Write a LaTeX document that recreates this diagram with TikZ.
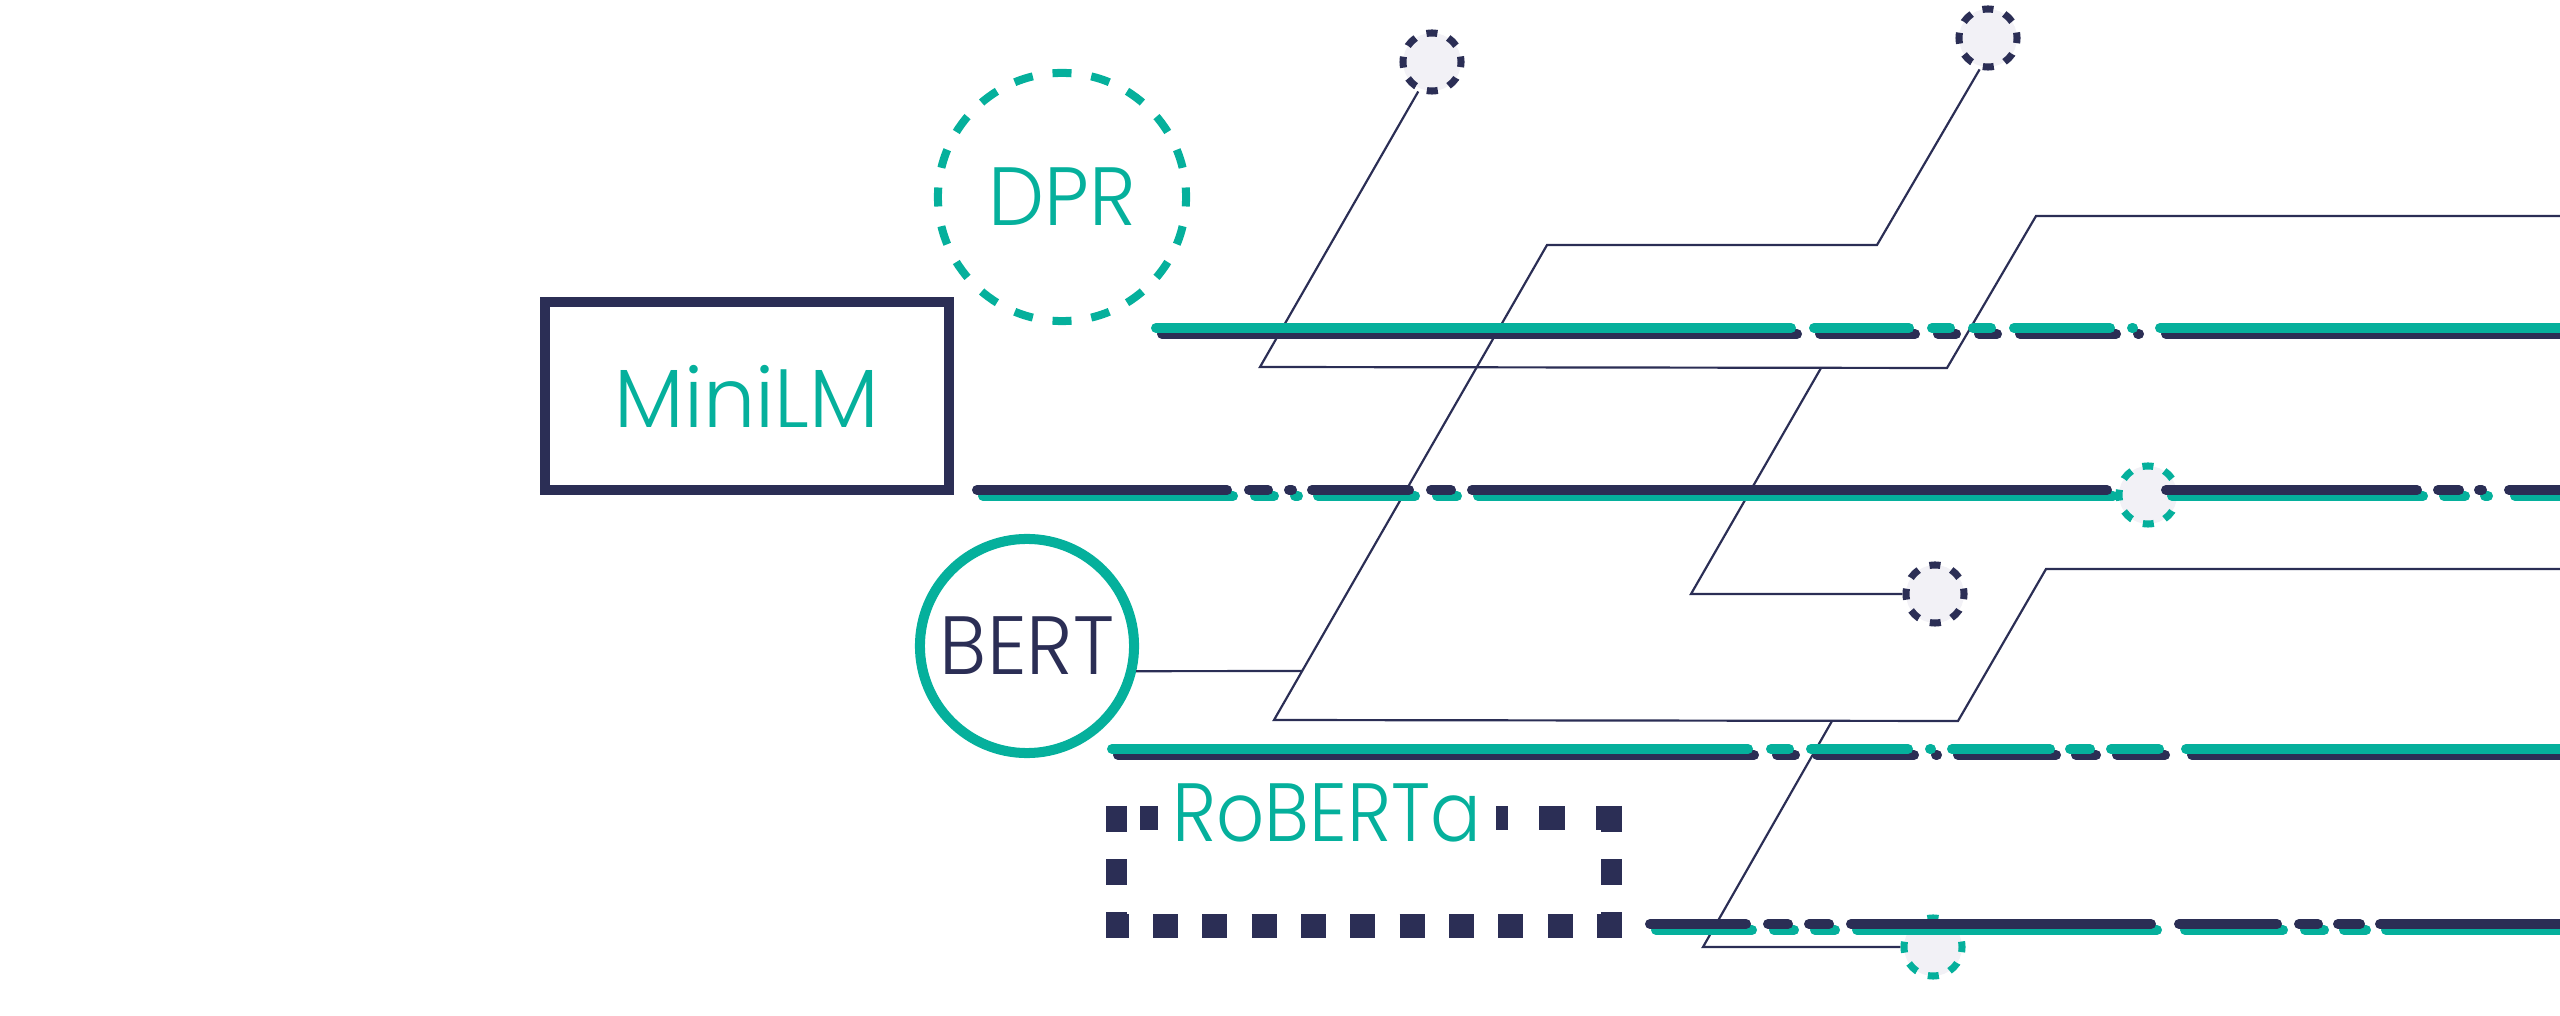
\documentclass[tikz,border=0pt]{standalone}
\usepackage{fontspec}
\setmainfont{Poppins}[UprightFont={* Light}]
\definecolor{teal1}{HTML}{05B09C}
\definecolor{navy}{HTML}{2B2E55}
\definecolor{dotfill}{HTML}{F2F1F6}
\newcommand\drawbarrow[4]{%
  \foreach \a/\b in {#4} {\draw[bar,#3] (\a+11,#1+6) -- (\b+1,#1+6);}
  \foreach \a/\b in {#4} {\draw[bar,#2] (\a+5,#1) -- (\b-5,#1);}
}
\newcommand\narrow[2]{\scalebox{#1}[1]{#2}}
\begin{document}
\begin{tikzpicture}[x=0.01cm,y=-0.01cm,
  lbl/.style={font=\fontsize{23.5}{28}\selectfont},
  thinpath/.style={draw=navy,line width=0.62pt,line join=miter},
  bar/.style={line width=2.845pt,line cap=round},
  smallc/.style={circle,minimum size=0.58cm,inner sep=0pt,line width=2pt,fill=dotfill,
     dash pattern=on 0.11cm off 0.118cm,dash phase=0.055cm},
  rdash/.style={draw=navy,line cap=butt}]
\useasboundingbox (0,0) rectangle (2560,1016);

% big labelled shapes
\node[lbl,draw=navy,line width=2.845pt,minimum width=4.04cm,minimum height=1.88cm,text=teal1,inner sep=0pt]
  (minilm) at (747,396) {MiniLM};
\node[lbl,circle,draw=teal1,line width=2.28pt,minimum size=2.48cm,text=teal1,inner sep=0pt,
  dash pattern=on 0.19cm off 0.1996cm,dash phase=0.095cm] (dpr) at (1062,197) {\narrow{0.96}{DPR}};
\node[lbl,circle,draw=teal1,line width=2.85pt,minimum size=2.14cm,text=navy,inner sep=0pt]
  (bert) at (1027,646) {\narrow{0.955}{BERT}};

% small dashed circles
\node[smallc,draw=navy] (c1) at (1432,62) {};
\node[smallc,draw=navy] (c2) at (1988,38) {};
\node[smallc,draw=navy] (c3) at (1935,594) {};
\node[smallc,draw=teal1] (ct) at (2148,495) {};
\node[smallc,draw=teal1] (c4) at (1933,947) {};

% thin path coordinates
\coordinate (a1) at (1260,367);
\coordinate (a2) at (1947,368);
\coordinate (a3) at (2036,216);
\coordinate (a4) at (2570,216);
\coordinate (b1) at (1877,245);
\coordinate (b2) at (1547,245);
\coordinate (b3) at (1274,720);
\coordinate (b4) at (1958,721);
\coordinate (b5) at (2046,569);
\coordinate (b6) at (2570,569);
\coordinate (k1) at (1821,368);
\coordinate (k2) at (1691,594);
\coordinate (e1) at (1832,721);
\coordinate (e2) at (1703,947);
\coordinate (d1) at (1302,671);

\draw[thinpath] (c1.245) -- (a1) -- (a2) -- (a3) -- (a4);
\draw[thinpath] (c2.255) -- (b1) -- (b2) -- (b3) -- (b4) -- (b5) -- (b6);
\draw[thinpath] (k1) -- (k2) -- (c3.west);
\draw[thinpath] (e1) -- (e2) -- (c4.west);
\draw[thinpath] (bert.-13) -- (d1);

% thick dashed double bars
\drawbarrow{328}{teal1}{navy}{1151/1796,1809/1914,1927/1955,1968/1996,2009/2115,2127/2138,2155/2580}
\drawbarrow{490}{navy}{teal1}{972/1232,1244/1273,1284/1297,1307/1414,1426/1456,1467/2112,2161/2422,2433/2464,2474/2487,2504/2580}
\drawbarrow{749}{teal1}{navy}{1107/1753,1766/1794,1806/1913,1925/1936,1947/2055,2065/2095,2106/2164,2181/2580}
\drawbarrow{924}{navy}{teal1}{1645/1751,1763/1793,1804/1834,1846/2156,2174/2282,2294/2323,2333/2365,2375/2580}

% RoBERTa dashed frame
\draw[rdash,line width=5.97pt,dash pattern=on 0.26cm off 0.27cm] (1116.5,806) -- (1116.5,938);
\draw[rdash,line width=5.97pt,dash pattern=on 0.26cm off 0.27cm] (1611.5,806) -- (1611.5,938);
\draw[rdash,line width=6.83pt,dash pattern=on 0.25cm off 0.243cm,dash phase=0.023cm] (1106,926) -- (1622,926);
\draw[rdash,line width=6.83pt,dash pattern=on 0.26cm off 0.31cm] (1622,818) -- (1106,818);
\node[lbl,text=teal1,fill=white,inner xsep=0.14cm,inner ysep=0.04cm,anchor=base] (roberta) at (1327,841) {\narrow{0.91}{RoBERTa}};
\end{tikzpicture}
\end{document}
